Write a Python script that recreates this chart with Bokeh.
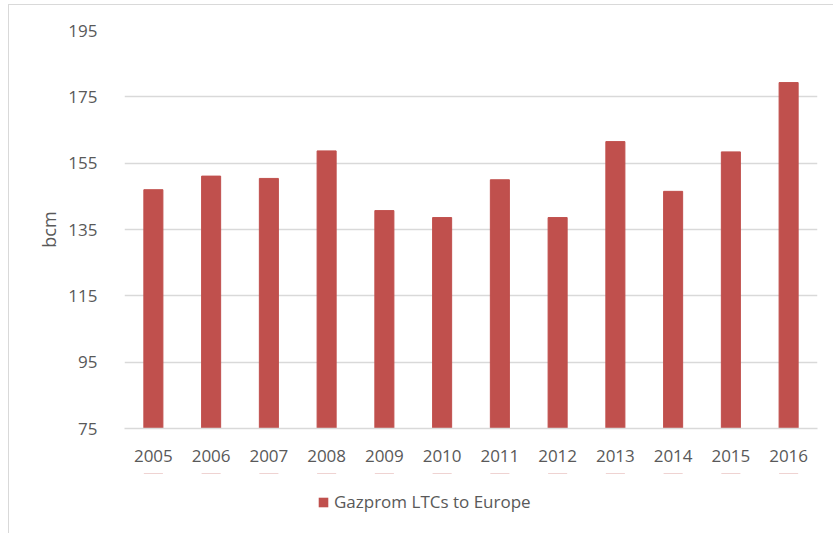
from bokeh.plotting import figure
from bokeh.layouts import column
from bokeh.models import ColumnDataSource, Range1d, FixedTicker, Legend, LegendItem, FactorRange
from bokeh.embed import file_html
from bokeh.resources import INLINE

years = ["2005", "2006", "2007", "2008", "2009", "2010", "2011", "2012", "2013", "2014", "2015", "2016"]
volumes = [147.0, 151.1, 150.4, 158.7, 140.7, 138.6, 150.0, 138.6, 161.5, 146.5, 158.4, 179.3]
y_ticks = [75, 95, 115, 135, 155, 175, 195]
series_name = "Gazprom LTCs to Europe"
y_label = "bcm"

FONT = "Open Sans"
TXT = "#595959"
GRID = "#d9d9d9"
BAR = "#c0504d"

src = ColumnDataSource(dict(year=years, v=volumes))

p = figure(x_range=FactorRange(*years, range_padding=0), y_range=Range1d(75, 195),
           width=825, height=468,
           min_border_left=115, min_border_top=25, min_border_right=17, min_border_bottom=45,
           output_backend="svg", toolbar_location=None)

r = p.vbar(x="year", top="v", bottom=75, width=0.33, source=src,
           fill_color=BAR, line_color=BAR)

p.outline_line_color = None
p.xgrid.grid_line_color = None
p.ygrid.grid_line_color = GRID
p.ygrid.grid_line_width = 1.5
p.yaxis.ticker = FixedTicker(ticks=y_ticks)

p.yaxis.axis_line_color = None
p.yaxis.major_tick_line_color = None
p.yaxis.minor_tick_line_color = None
p.yaxis.major_label_standoff = 21
p.yaxis.axis_label = y_label
p.yaxis.axis_label_standoff = 4
p.yaxis.axis_label_text_font = FONT
p.yaxis.axis_label_text_font_size = "18px"
p.yaxis.axis_label_text_font_style = "normal"
p.yaxis.axis_label_text_color = TXT

p.xaxis.axis_line_color = GRID
p.xaxis.axis_line_width = 1.5
p.xaxis.major_tick_line_color = None
p.xaxis.minor_tick_line_color = None
p.xaxis.major_label_standoff = 15

for ax in (p.xaxis, p.yaxis):
    ax.major_label_text_font = FONT
    ax.major_label_text_font_size = "17px"
    ax.major_label_text_color = TXT

# legend strip below the chart (proxy series kept out of its visible range)
pl = figure(width=825, height=61, x_range=FactorRange(*years, range_padding=0),
            y_range=Range1d(0, 1),
            min_border_left=115, min_border_right=17, min_border_top=0, min_border_bottom=0,
            x_axis_type=None, y_axis_type=None,
            output_backend="svg", toolbar_location=None)
pl.outline_line_color = None
pl.grid.visible = False
proxy = pl.vbar(x="year", top="v", bottom=75, width=0.33, source=src,
                fill_color=BAR, line_color=None)

legend = Legend(items=[LegendItem(label=series_name, renderers=[proxy])],
                location=(193, 21), orientation="horizontal",
                glyph_width=12, glyph_height=12, label_standoff=5,
                label_text_font=FONT, label_text_font_size="17px", label_text_color=TXT,
                border_line_color=None, background_fill_alpha=0, margin=0, padding=0)
pl.add_layout(legend, "center")

layout = column(p, pl, spacing=0)
layout.styles = {"margin-left": "8px", "margin-top": "4px",
                 "border-left": "1px solid #d9d9d9", "border-top": "1px solid #d9d9d9"}

open("out.html", "w").write(file_html(layout, INLINE))
